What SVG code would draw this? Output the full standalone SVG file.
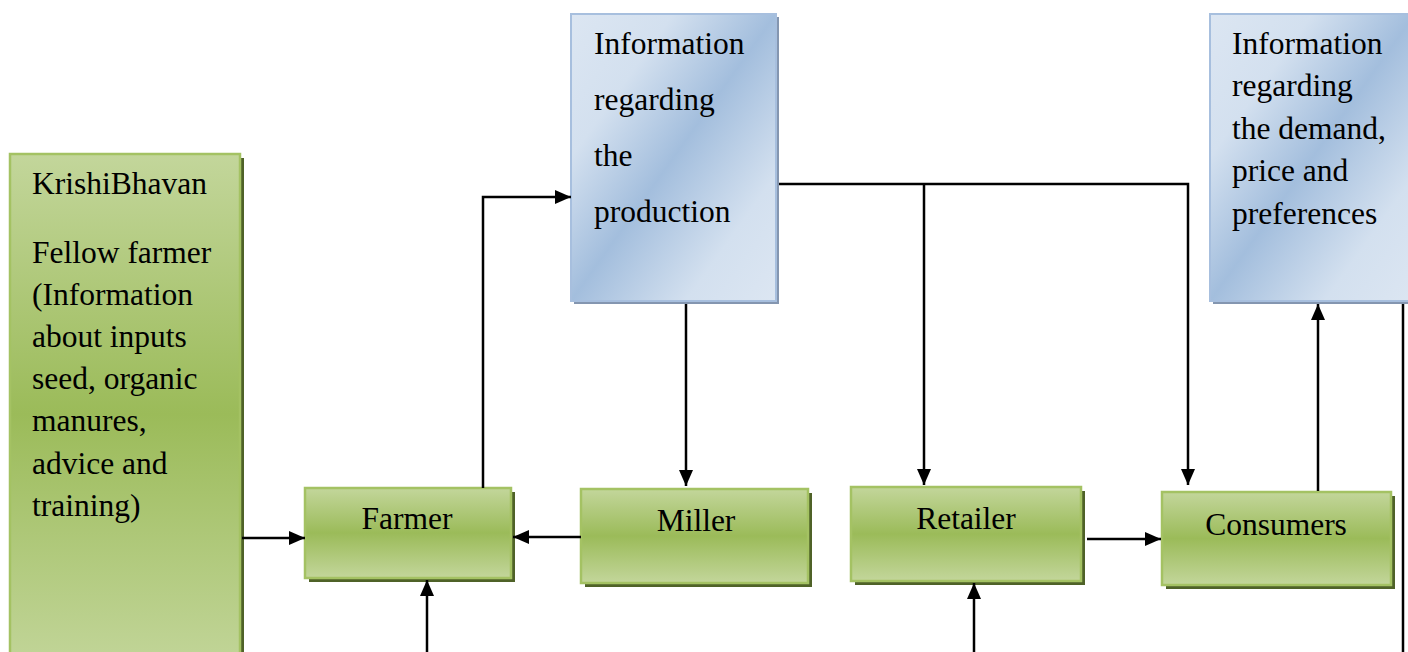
<svg xmlns="http://www.w3.org/2000/svg" width="1408" height="652" viewBox="0 0 1408 652">
<defs>
<linearGradient id="gG" x1="0" y1="0" x2="0" y2="1">
<stop offset="0" stop-color="#C3D69B"/>
<stop offset="0.5" stop-color="#9BBB59"/>
<stop offset="1" stop-color="#C3D69B"/>
</linearGradient>
<linearGradient id="gB" x1="0" y1="0" x2="1" y2="1">
<stop offset="0" stop-color="#DCE6F2"/>
<stop offset="0.25" stop-color="#D3E0EF"/>
<stop offset="0.5" stop-color="#A3BEDD"/>
<stop offset="0.78" stop-color="#D3E0EF"/>
<stop offset="1" stop-color="#DCE6F2"/>
</linearGradient>
<marker id="ah" viewBox="0 0 16 14" refX="16" refY="7" markerWidth="16" markerHeight="14" markerUnits="userSpaceOnUse" orient="auto">
<path d="M0,0 L16,7 L0,14 Z" fill="#000"/>
</marker>
</defs>
<style>
.gbox{fill:url(#gG);stroke:#A4C263;stroke-width:2.5}
.gsh{fill:#4F6228}
.bbox{fill:url(#gB);stroke:#A7BFDE;stroke-width:2}
.bsh{fill:#8496B0}
text{font-size:31.5px;fill:#000}
.c{text-anchor:middle}
.ln{fill:none;stroke:#000;stroke-width:2.5}
</style>
<rect width="1408" height="652" fill="#fff"/>
<g font-family="Liberation Serif, Times New Roman, serif">
<g id="krishibhavan">
<rect class="gsh" x="14" y="158" width="230" height="520"/>
<rect class="gbox" x="10" y="154" width="230" height="520"/>
<text x="32" y="194">KrishiBhavan</text>
<text x="32" y="263">Fellow farmer</text>
<text x="32" y="305">(Information</text>
<text x="32" y="347">about inputs</text>
<text x="32" y="389">seed, organic</text>
<text x="32" y="431">manures,</text>
<text x="32" y="474">advice and</text>
<text x="32" y="516">training)</text>
</g>

<g id="farmer">
<rect class="gsh" x="309" y="492" width="206" height="90"/>
<rect class="gbox" x="305" y="488" width="206" height="90"/>
<text class="c" x="407" y="529">Farmer</text>
</g>

<g id="miller">
<rect class="gsh" x="585" y="493" width="227" height="94"/>
<rect class="gbox" x="581" y="489" width="227" height="94"/>
<text class="c" x="696" y="531">Miller</text>
</g>

<g id="retailer">
<rect class="gsh" x="855" y="491" width="230" height="94"/>
<rect class="gbox" x="851" y="487" width="230" height="94"/>
<text class="c" x="966" y="529">Retailer</text>
</g>

<g id="consumers">
<rect class="gsh" x="1166" y="496" width="229" height="93"/>
<rect class="gbox" x="1162" y="492" width="229" height="93"/>
<text class="c" x="1276" y="535">Consumers</text>
</g>

<g id="info-production">
<rect class="bsh" x="574" y="17" width="205" height="287"/>
<rect class="bbox" x="571" y="14" width="205" height="287"/>
<text x="594" y="54">Information</text>
<text x="594" y="110">regarding</text>
<text x="594" y="166">the</text>
<text x="594" y="222">production</text>
</g>

<g id="info-demand">
<rect class="bsh" x="1213" y="17" width="205" height="287"/>
<rect class="bbox" x="1210" y="14" width="205" height="287"/>
<text x="1232" y="54">Information</text>
<text x="1232" y="96">regarding</text>
<text x="1232" y="139">the demand,</text>
<text x="1232" y="181">price and</text>
<text x="1232" y="224">preferences</text>
</g>
</g>
<g id="connectors">
<path class="ln" d="M242,538 H305" marker-end="url(#ah)"/>
<path class="ln" d="M483,488 V197 H571" marker-end="url(#ah)"/>
<path class="ln" d="M686,304 V486" marker-end="url(#ah)"/>
<path class="ln" d="M581,537 H513" marker-end="url(#ah)"/>
<path class="ln" d="M779,184 H1188 V485" marker-end="url(#ah)"/>
<path class="ln" d="M924,184 V485" marker-end="url(#ah)"/>
<path class="ln" d="M1087,539 H1161" marker-end="url(#ah)"/>
<path class="ln" d="M1318,491 V304" marker-end="url(#ah)"/>
<path class="ln" d="M1403,304 V652"/>
<path class="ln" d="M427,652 V580" marker-end="url(#ah)"/>
<path class="ln" d="M974,652 V583" marker-end="url(#ah)"/>
</g>
</svg>
